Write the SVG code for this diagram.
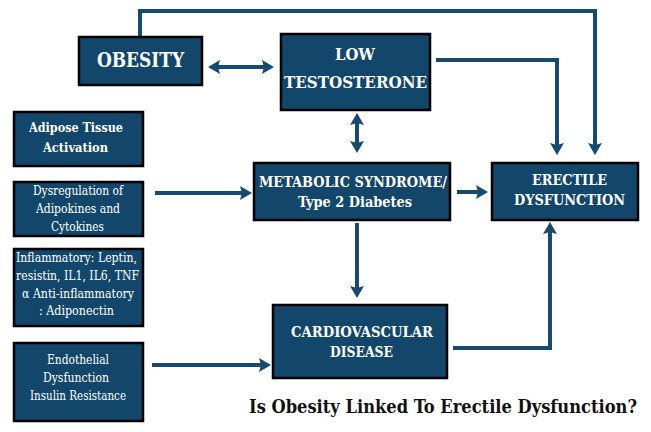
<svg xmlns="http://www.w3.org/2000/svg" width="651" height="432" viewBox="0 0 651 432">
<style>
.box{fill:#12466b;stroke:#000;stroke-width:2.5}
.t{font-family:'DejaVu Serif Condensed','DejaVu Serif',serif;font-stretch:condensed;fill:#fff;text-anchor:middle}
.b{font-weight:bold}
.c{fill:none;stroke:#164a70;stroke-width:4}
.title{font-family:'DejaVu Serif Condensed','DejaVu Serif',serif;font-stretch:condensed;font-weight:bold;fill:#111;text-anchor:middle}
</style>
<defs>
<marker id="ah" viewBox="0 0 12 14" refX="9" refY="7" markerWidth="12" markerHeight="14" markerUnits="userSpaceOnUse" orient="auto-start-reverse">
<path d="M0,0 L12,7 L0,14 L2,7 z" fill="#164a70"/>
</marker>
</defs>
<rect width="651" height="432" fill="#fff"/>
<g id="connectors">
<path class="c" d="M140,37 V11 H595 V152" marker-end="url(#ah)"/>
<path class="c" d="M436,60 H557 V152" marker-end="url(#ah)"/>
<path class="c" d="M211,67 H271" marker-start="url(#ah)" marker-end="url(#ah)"/>
<path class="c" d="M357,116 V150" marker-start="url(#ah)" marker-end="url(#ah)"/>
<path class="c" d="M155,193 H249" marker-end="url(#ah)"/>
<path class="c" d="M457,192 H485" marker-end="url(#ah)"/>
<path class="c" d="M357,223 V295" marker-end="url(#ah)"/>
<path class="c" d="M453,348 H550 V225" marker-end="url(#ah)"/>
<path class="c" d="M152,365 H268" marker-end="url(#ah)"/>
</g>
<g id="obesity">
<rect class="box" x="79" y="37" width="123" height="48"/>
<text class="t b" x="140.5" y="67" font-size="20" textLength="87" lengthAdjust="spacingAndGlyphs">OBESITY</text>
</g>
<g id="low-testosterone">
<rect class="box" x="281" y="34" width="149" height="76"/>
<text class="t b" x="355" y="60" font-size="17" textLength="40" lengthAdjust="spacingAndGlyphs">LOW</text>
<text class="t b" x="355.5" y="88" font-size="17" textLength="143" lengthAdjust="spacingAndGlyphs">TESTOSTERONE</text>
</g>
<g id="adipose">
<rect class="box" x="14" y="112" width="129" height="54"/>
<text class="t b" x="76" y="132" font-size="13.5" textLength="94" lengthAdjust="spacingAndGlyphs">Adipose Tissue</text>
<text class="t b" x="75.5" y="152" font-size="13.5" textLength="65" lengthAdjust="spacingAndGlyphs">Activation</text>
</g>
<g id="dysregulation">
<rect class="box" x="14" y="182" width="129" height="54"/>
<text class="t" x="78" y="195" font-size="12.5" textLength="90" lengthAdjust="spacingAndGlyphs">Dysregulation of</text>
<text class="t" x="78" y="213" font-size="12.5" textLength="84" lengthAdjust="spacingAndGlyphs">Adipokines and</text>
<text class="t" x="77.5" y="231" font-size="12.5" textLength="53" lengthAdjust="spacingAndGlyphs">Cytokines</text>
</g>
<g id="inflammatory">
<rect class="box" x="14" y="249" width="129" height="77"/>
<text class="t" x="76.5" y="262" font-size="12.5" textLength="121" lengthAdjust="spacingAndGlyphs">Inflammatory: Leptin,</text>
<text class="t" x="77.5" y="280" font-size="12.5" textLength="123" lengthAdjust="spacingAndGlyphs">resistin, IL1, IL6, TNF</text>
<text class="t" x="78" y="298" font-size="12.5" textLength="112" lengthAdjust="spacingAndGlyphs">α Anti-inflammatory</text>
<text class="t" x="76.5" y="315" font-size="12.5" textLength="75" lengthAdjust="spacingAndGlyphs">: Adiponectin</text>
</g>
<g id="endothelial">
<rect class="box" x="14" y="343" width="129" height="78"/>
<text class="t" x="78" y="364" font-size="12.5" textLength="62" lengthAdjust="spacingAndGlyphs">Endothelial</text>
<text class="t" x="76" y="382" font-size="12.5" textLength="66" lengthAdjust="spacingAndGlyphs">Dysfunction</text>
<text class="t" x="78" y="400" font-size="12.5" textLength="96" lengthAdjust="spacingAndGlyphs">Insulin Resistance</text>
</g>
<g id="metabolic">
<rect class="box" x="254" y="163" width="196" height="57"/>
<text class="t b" x="353" y="187" font-size="15.5" textLength="188" lengthAdjust="spacingAndGlyphs">METABOLIC SYNDROME/</text>
<text class="t b" x="355" y="207" font-size="15.5" textLength="114" lengthAdjust="spacingAndGlyphs">Type 2 Diabetes</text>
</g>
<g id="erectile">
<rect class="box" x="492" y="163" width="146" height="57"/>
<text class="t b" x="569.5" y="185" font-size="15.5" textLength="75" lengthAdjust="spacingAndGlyphs">ERECTILE</text>
<text class="t b" x="569.5" y="205" font-size="15.5" textLength="111" lengthAdjust="spacingAndGlyphs">DYSFUNCTION</text>
</g>
<g id="cardiovascular">
<rect class="box" x="273" y="305" width="174" height="73"/>
<text class="t b" x="362" y="337" font-size="15.5" textLength="142" lengthAdjust="spacingAndGlyphs">CARDIOVASCULAR</text>
<text class="t b" x="361.5" y="357" font-size="15.5" textLength="63" lengthAdjust="spacingAndGlyphs">DISEASE</text>
</g>
<text class="title" x="443" y="413" font-size="18" textLength="388" lengthAdjust="spacingAndGlyphs">Is Obesity Linked To Erectile Dysfunction?</text>
</svg>
